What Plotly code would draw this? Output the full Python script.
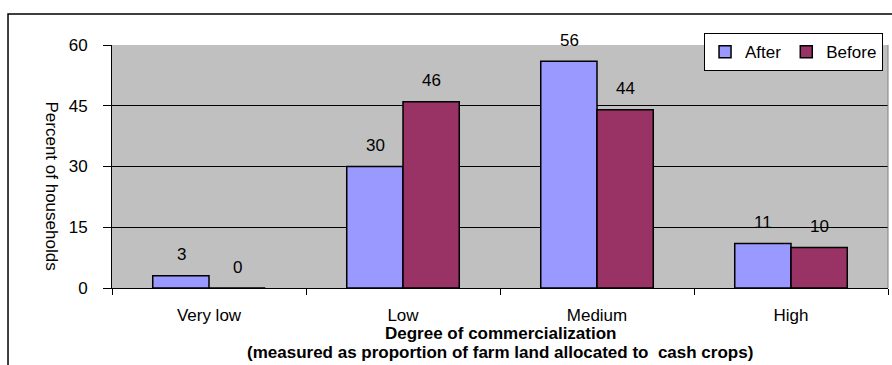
import plotly.graph_objects as go

categories = ["Very low", "Low", "Medium", "High"]
after = [3, 30, 56, 11]
before = [0, 46, 44, 10]
y_ticks = [0, 15, 30, 45, 60]
x_title_lines = ["Degree of commercialization",
                 "(measured as proportion of farm land allocated to  cash crops)"]

FONT = "Liberation Sans, Arial, sans-serif"
FS = 17

fig = go.Figure()
fig.add_trace(go.Bar(name="After", x=categories, y=after,
                     marker=dict(color="#9999FF", line=dict(color="black", width=1.5))))
fig.add_trace(go.Bar(name="Before", x=categories, y=before,
                     marker=dict(color="#993366", line=dict(color="black", width=1.5))))

# value labels above each bar
annotations = []
for vals, shift in ((after, -28), (before, 28)):
    for cat, v in zip(categories, vals):
        annotations.append(dict(x=cat, y=v, xref="x", yref="y", text=str(v),
                                showarrow=False, xshift=shift, yshift=21,
                                yanchor="middle", font=dict(size=FS, color="black", family=FONT)))

# vertical axis title reading top-to-bottom
annotations.append(dict(x=-0.078, y=0.42, xref="paper", yref="paper",
                        xanchor="center", yanchor="middle",
                        text="Percent of households", textangle=90, showarrow=False,
                        font=dict(size=FS, color="black", family=FONT)))

# two-line bold axis title beneath the categories (tight line spacing)
for line, ypos in zip(x_title_lines, (-0.1893, -0.2634)):
    annotations.append(dict(x=0.5, y=ypos, xref="paper", yref="paper",
                            xanchor="center", yanchor="middle",
                            text=f"<b>{line}</b>", showarrow=False,
                            font=dict(size=FS, color="black", family=FONT)))

fig.update_layout(
    width=892, height=365,
    margin=dict(l=112, r=4, t=45, b=77),
    paper_bgcolor="white",
    plot_bgcolor="#C0C0C0",
    barmode="group", bargap=0.42, bargroupgap=0,
    font=dict(family=FONT, size=FS, color="black"),
    showlegend=True,
    legend=dict(orientation="h", x=0.9936, xanchor="right", y=1.049, yanchor="top",
                bgcolor="white", bordercolor="black", borderwidth=1,
                font=dict(size=FS, family=FONT), itemwidth=30),
    annotations=annotations,
    shapes=[
        # outer chart frame
        dict(type="rect", xref="paper", yref="paper", x0=-0.134, x1=1.2, y0=-1, y1=1.1276,
             line=dict(color="black", width=1.5), fillcolor="rgba(0,0,0,0)", layer="below"),
        # plot area right edge
        dict(type="line", xref="paper", yref="paper", x0=1, x1=1, y0=0, y1=1,
             line=dict(color="#808080", width=1)),
    ],
)

fig.update_xaxes(type="category", showgrid=False, showline=True, linecolor="black", linewidth=1,
                 ticks="outside", tickson="boundaries", ticklen=6, tickcolor="black",
                 ticklabelstandoff=12,
                 tickfont=dict(size=FS, family=FONT, color="black"))
fig.update_yaxes(range=[0, 60], tickvals=y_ticks, showgrid=True, gridcolor="black", gridwidth=1,
                 showline=True, linecolor="black", linewidth=1, ticks="outside", ticklen=8,
                 tickcolor="black", zeroline=False, ticklabelstandoff=12,
                 tickfont=dict(size=FS, family=FONT, color="black"))

fig.write_html("out.html")
